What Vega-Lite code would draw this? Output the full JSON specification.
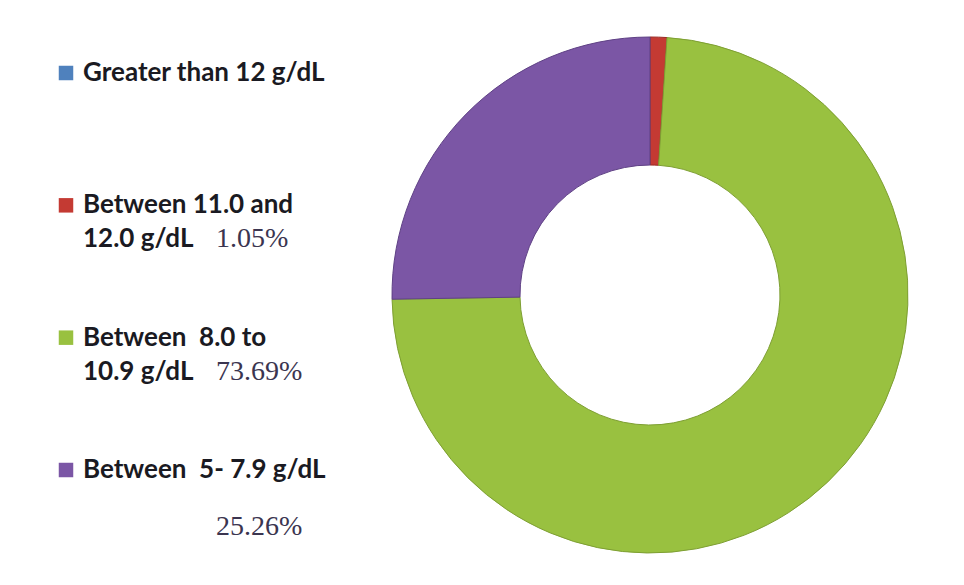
{
  "$schema": "https://vega.github.io/schema/vega-lite/v6.json",
  "background": "white",
  "padding": {"left": 0, "top": 5, "right": 0, "bottom": 0},
  "spacing": 238,
  "bounds": "flush",
  "config": {"view": {"stroke": null}},
  "data": {"values": [
    {"rank": 1, "category": "Greater than 12 g/dL", "label": "\u2009Greater than 12 g/dL", "pct": "", "value": 0},
    {"rank": 2, "category": "Between 11.0 and 12.0 g/dL", "label": "Between 11.0 and\n12.0 g/dL", "pct": "1.05%", "value": 1.05},
    {"rank": 3, "category": "Between 8.0 to 10.9 g/dL", "label": "Between\u00a0 8.0 to\n10.9 g/dL", "pct": "73.69%", "value": 73.69},
    {"rank": 4, "category": "Between 5- 7.9 g/dL", "label": "Between\u00a0 5- 7.9 g/dL", "pct": "\n25.26%", "value": 25.26}
  ]},
  "hconcat": [
    {
      "width": 132,
      "height": 580,
      "encoding": {
        "y": {"field": "category", "type": "nominal", "scale": {"type": "point", "padding": 0, "domain": ["Greater than 12 g/dL", "Between 11.0 and 12.0 g/dL", "Between 8.0 to 10.9 g/dL", "Between 5- 7.9 g/dL"], "range": [68, 465]}, "axis": null}
      },
      "layer": [
        {
          "mark": {"type": "point", "shape": "square", "filled": true, "size": 210, "opacity": 1},
          "encoding": {
            "color": {"field": "category", "type": "nominal", "scale": {"domain": ["Greater than 12 g/dL", "Between 11.0 and 12.0 g/dL", "Between 8.0 to 10.9 g/dL", "Between 5- 7.9 g/dL"], "range": ["#4f81bd", "#c43a33", "#99c140", "#7b56a5"]}, "legend": null}
          }
        },
        {
          "mark": {"type": "text", "align": "left", "baseline": "alphabetic", "dx": 17, "dy": 8, "font": "Lato", "fontWeight": "bold", "fontSize": 26, "lineBreak": "\n", "lineHeight": 34, "color": "#1a1a22", "clip": false},
          "encoding": {
            "text": {"field": "label"}
          }
        },
        {
          "mark": {"type": "text", "align": "left", "baseline": "alphabetic", "dx": 150, "dy": 42, "font": "Liberation Serif", "fontSize": 28, "lineBreak": "\n", "lineHeight": 23, "color": "#3b3550", "clip": false},
          "encoding": {
            "text": {"field": "pct"}
          }
        }
      ]
    },
    {
      "width": 560,
      "height": 580,
      "mark": {"type": "arc", "outerRadius": 258, "innerRadius": 130, "strokeWidth": 1},
      "encoding": {
        "theta": {"field": "value", "type": "quantitative", "stack": true},
        "order": {"field": "rank", "type": "quantitative"},
        "color": {"field": "category", "type": "nominal", "legend": null},
        "stroke": {"field": "category", "type": "nominal", "scale": {"domain": ["Greater than 12 g/dL", "Between 11.0 and 12.0 g/dL", "Between 8.0 to 10.9 g/dL", "Between 5- 7.9 g/dL"], "range": ["#3d6a9a", "#9a2a24", "#7e9f33", "#5f4185"]}, "legend": null}
      }
    }
  ]
}
